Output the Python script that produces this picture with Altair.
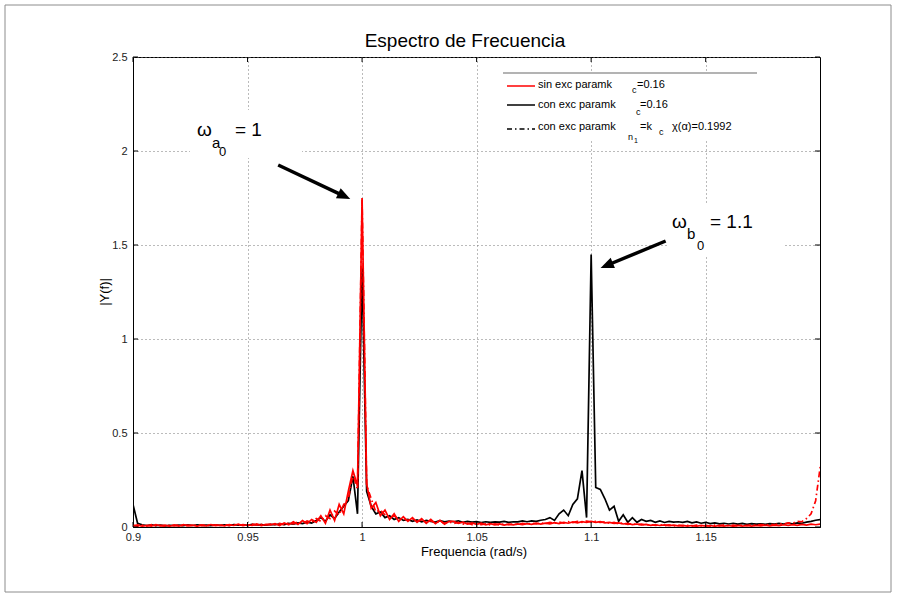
import altair as alt
import pandas as pd

# Frequency grid of the spectrum (rad/s)
FREQ_START = 0.9
FREQ_STEP = 0.002

# |Y(f)| without parametric excitation, k_c = 0.16 (red, solid)
mag_sin = [
    0.006, 0.011, 0.004, 0.009, 0.005, 0.012, 0.006, 0.010, 0.004, 0.011,   # 0.90
    0.005, 0.012, 0.007, 0.010, 0.004, 0.011, 0.006, 0.013, 0.007, 0.010,   # 0.92
    0.006, 0.013, 0.008, 0.015, 0.007, 0.012, 0.009, 0.016, 0.008, 0.014,   # 0.94
    0.011, 0.018, 0.008, 0.022, 0.012, 0.028, 0.014, 0.034, 0.018, 0.040,   # 0.96
    0.025, 0.060, 0.020, 0.090, 0.035, 0.120, 0.070, 0.190, 0.300, 0.220,   # 0.98
    1.750, 0.230, 0.100, 0.130, 0.060, 0.090, 0.040, 0.070, 0.030, 0.055,   # 1.00
    0.030, 0.050, 0.025, 0.045, 0.020, 0.040, 0.018, 0.036, 0.015, 0.030,   # 1.02
    0.030, 0.020, 0.026, 0.016, 0.022, 0.014, 0.020, 0.012, 0.018, 0.011,   # 1.04
    0.016, 0.010, 0.015, 0.011, 0.017, 0.012, 0.018, 0.014, 0.020, 0.015,   # 1.06
    0.021, 0.017, 0.023, 0.018, 0.025, 0.020, 0.027, 0.022, 0.028, 0.024,   # 1.08
    0.030, 0.025, 0.028, 0.022, 0.025, 0.019, 0.022, 0.016, 0.019, 0.013,   # 1.10
    0.016, 0.011, 0.014, 0.009, 0.012, 0.008, 0.011, 0.007, 0.010, 0.006,   # 1.12
    0.009, 0.005, 0.008, 0.004, 0.009, 0.005, 0.008, 0.004, 0.009, 0.005,   # 1.14
    0.008, 0.004, 0.009, 0.005, 0.008, 0.005, 0.009, 0.006, 0.010, 0.006,   # 1.16
    0.010, 0.007, 0.012, 0.008, 0.013, 0.009, 0.014, 0.010, 0.015, 0.012,   # 1.18
    0.016,                                                                  # 1.20
]

# |Y(f)| with parametric excitation, k_c = 0.16 (black, solid)
mag_con = [
    0.120, 0.020, 0.012, 0.008, 0.011, 0.007, 0.010, 0.006, 0.009, 0.008,
    0.010, 0.007, 0.011, 0.008, 0.012, 0.009, 0.010, 0.007, 0.012, 0.009,
    0.011, 0.008, 0.013, 0.010, 0.012, 0.009, 0.014, 0.011, 0.013, 0.010,
    0.014, 0.012, 0.017, 0.013, 0.019, 0.015, 0.022, 0.018, 0.026, 0.021,
    0.035, 0.050, 0.030, 0.065, 0.045, 0.080, 0.110, 0.140, 0.270, 0.070,
    1.380, 0.190, 0.110, 0.070, 0.080, 0.050, 0.060, 0.040, 0.050, 0.035,
    0.040, 0.030, 0.038, 0.028, 0.035, 0.030, 0.026, 0.034, 0.027, 0.031,
    0.028, 0.033, 0.025, 0.030, 0.026, 0.029, 0.024, 0.028, 0.025, 0.027,
    0.026, 0.030, 0.025, 0.028, 0.027, 0.032, 0.028, 0.033, 0.030, 0.036,
    0.040, 0.050, 0.035, 0.070, 0.090, 0.060, 0.120, 0.150, 0.300, 0.050,
    1.450, 0.210, 0.200, 0.150, 0.090, 0.110, 0.030, 0.065, 0.025, 0.050,
    0.025, 0.040, 0.030, 0.035, 0.025, 0.032, 0.024, 0.030, 0.026, 0.028,
    0.025, 0.030, 0.022, 0.027, 0.020, 0.025, 0.018, 0.022, 0.017, 0.020,
    0.016, 0.020, 0.015, 0.019, 0.014, 0.018, 0.015, 0.017, 0.014, 0.018,
    0.015, 0.019, 0.016, 0.020, 0.017, 0.022, 0.020, 0.026, 0.030, 0.036,
    0.040,
]

# |Y(f)| with parametric excitation, k_n1 = k_c chi(alpha) = 0.1992 (dash-dot)
mag_n1 = [
    0.009, 0.004, 0.010, 0.005, 0.012, 0.006, 0.009, 0.004, 0.010, 0.006,
    0.011, 0.005, 0.009, 0.006, 0.012, 0.007, 0.010, 0.005, 0.011, 0.008,
    0.012, 0.007, 0.014, 0.009, 0.013, 0.008, 0.015, 0.010, 0.014, 0.011,
    0.016, 0.012, 0.019, 0.013, 0.022, 0.017, 0.027, 0.019, 0.032, 0.024,
    0.045, 0.030, 0.060, 0.045, 0.085, 0.065, 0.120, 0.150, 0.280, 0.200,
    1.740, 0.220, 0.150, 0.080, 0.090, 0.065, 0.050, 0.060, 0.040, 0.045,
    0.035, 0.042, 0.030, 0.038, 0.026, 0.033, 0.022, 0.030, 0.020, 0.027,
    0.018, 0.025, 0.015, 0.021, 0.013, 0.019, 0.012, 0.017, 0.011, 0.016,
    0.011, 0.017, 0.012, 0.016, 0.013, 0.019, 0.015, 0.020, 0.016, 0.022,
    0.018, 0.024, 0.019, 0.026, 0.021, 0.028, 0.023, 0.030, 0.025, 0.031,
    0.027, 0.030, 0.024, 0.027, 0.020, 0.024, 0.017, 0.021, 0.014, 0.018,
    0.012, 0.015, 0.010, 0.013, 0.008, 0.012, 0.007, 0.011, 0.006, 0.010,
    0.006, 0.009, 0.005, 0.010, 0.006, 0.009, 0.005, 0.010, 0.006, 0.011,
    0.007, 0.010, 0.006, 0.011, 0.007, 0.012, 0.008, 0.013, 0.010, 0.015,
    0.012, 0.018, 0.015, 0.022, 0.020, 0.030, 0.028, 0.045, 0.070, 0.140,
    0.320,
]

x_ticks = [0.9, 0.95, 1.0, 1.05, 1.1, 1.15]
y_ticks = [0, 0.5, 1.0, 1.5, 2.0, 2.5]

freq = [round(FREQ_START + FREQ_STEP * i, 3) for i in range(len(mag_con))]

W, H = 687, 470
FONT = "Liberation Sans"

x_enc = alt.X(
    "freq:Q",
    scale=alt.Scale(domain=[0.9, 1.1999], nice=False, zero=False),
    axis=alt.Axis(values=x_ticks, format="~g", title=None, ticks=False,
                  labelPadding=4, labelFlush=False, labelOverlap=False),
)
y_enc = alt.Y(
    "mag:Q",
    scale=alt.Scale(domain=[0, 2.5], nice=False),
    axis=alt.Axis(values=y_ticks, format="~g", title=None, ticks=False,
                  labelPadding=6, labelFlush=False, labelOverlap=False),
)


def series(values, color, dash=None):
    df = pd.DataFrame({"freq": freq, "mag": values})
    kw = dict(color=color, strokeWidth=1.7, clip=True)
    if dash:
        kw["strokeDash"] = dash
    return alt.Chart(df).mark_line(**kw).encode(x=x_enc, y=y_enc)


one = pd.DataFrame({"k": [0]})


def ptext(text, x, y, size, align="left", angle=None, baseline="alphabetic"):
    kw = dict(text=text, fontSize=size, font=FONT, align=align,
              baseline=baseline, color="black")
    if angle is not None:
        kw["angle"] = angle
    return alt.Chart(one).mark_text(**kw).encode(x=alt.value(x), y=alt.value(y))


def prect(x, x2, y, y2, fill="white", stroke=None):
    kw = dict(fill=fill)
    if stroke:
        kw.update(stroke=stroke, strokeWidth=1)
    return alt.Chart(one).mark_rect(**kw).encode(
        x=alt.value(x), x2=alt.value(x2), y=alt.value(y), y2=alt.value(y2))


def pline(x, x2, y, color, width=1.5, dash=None):
    kw = dict(color=color, strokeWidth=width)
    if dash:
        kw["strokeDash"] = dash
    return alt.Chart(one).mark_rule(**kw).encode(
        x=alt.value(x), x2=alt.value(x2), y=alt.value(y))


# inward tick marks on all four sides
xt = pd.DataFrame({"freq": x_ticks})
yt = pd.DataFrame({"mag": y_ticks})
ticks = [
    alt.Chart(xt).mark_rule(color="black").encode(x=x_enc, y=alt.value(H), y2=alt.value(H - 5)),
    alt.Chart(xt).mark_rule(color="black").encode(x=x_enc, y=alt.value(0), y2=alt.value(5)),
    alt.Chart(yt).mark_rule(color="black").encode(y=y_enc, x=alt.value(0), x2=alt.value(5)),
    alt.Chart(yt).mark_rule(color="black").encode(y=y_enc, x=alt.value(W - 5), x2=alt.value(W)),
]

# arrows pointing to the two resonance peaks
arrows = pd.DataFrame({
    "f0": [0.96337, 1.13252], "m0": [1.9255, 1.5213],
    "f1": [0.99126, 1.10774], "m1": [1.7649, 1.3963],
    "ft": [0.99484, 1.10411], "mt": [1.7447, 1.3777],
    "ang": [25.3, 157.4],
})
arrow_lines = alt.Chart(arrows).mark_rule(color="black", strokeWidth=3.5).encode(
    x=alt.X("f0:Q", scale=alt.Scale(domain=[0.9, 1.1999], nice=False, zero=False)),
    y=alt.Y("m0:Q", scale=alt.Scale(domain=[0, 2.5], nice=False)),
    x2="f1:Q", y2="m1:Q")
arrow_heads = alt.Chart(arrows).mark_point(
    shape="M0,0 L-1,-0.42 L-1,0.42 Z", filled=True, color="black", opacity=1, size=700
).encode(
    x=alt.X("ft:Q", scale=alt.Scale(domain=[0.9, 1.1999], nice=False, zero=False)),
    y=alt.Y("mt:Q", scale=alt.Scale(domain=[0, 2.5], nice=False)),
    angle=alt.Angle("ang:Q", scale=None),
)

# white boxes behind the annotation labels and the legend
masks = [
    prect(57, 169, 53, 101),
    prect(534, 650, 148, 198),
    prect(370, 624, 16, 84),
    pline(370, 624, 16, "#9a9a9a", width=1.5),
]

legend = [
    pline(374, 402, 29, "red", 1.5),
    ptext("sin exc paramk", 405, 31, 11),
    ptext("c", 499, 36, 9),
    ptext("=0.16", 504, 31, 11),
    pline(374, 402, 48, "black", 1.5),
    ptext("con  exc paramk", 405, 51, 11),
    ptext("c", 503, 58, 9),
    ptext("=0.16", 507, 51, 11),
    pline(374, 402, 72, "black", 1.5, dash=[5, 3, 1.5, 3]),
    ptext("con exc paramk", 405, 73, 11),
    ptext("n", 495, 83, 9),
    ptext("1", 501, 86, 7),
    ptext("=k", 507, 73, 11),
    ptext("c", 526, 78, 9),
    ptext("\u03c7(\u03b1)=0.1992", 539, 73, 11),
]

labels = [
    ptext("\u03c9", 64, 79, 19),
    ptext("a", 79, 91, 15),
    ptext("0", 86, 99, 13),
    ptext("= 1", 102, 79, 19),
    ptext("\u03c9", 539, 171, 19),
    ptext("b", 554, 182, 15),
    ptext("0", 564, 193, 13),
    ptext("= 1.1", 577, 171, 19),
]

frame_and_titles = [
    prect(-128, 758, -52, 535, fill="transparent", stroke="#8c8c8c"),
    ptext("Espectro de Frecuencia", 332, -10, 19, align="center"),
    ptext("Frequencia (rad/s)", 341, 499, 13, align="center"),
    ptext("|Y(f)|", -28, 235, 13, align="center", angle=270, baseline="middle"),
]

chart = alt.layer(
    *masks,
    series(mag_con, "black"),
    series(mag_sin, "red"),
    series(mag_n1, "red", dash=[6, 3, 1.5, 3]),
    *ticks,
    arrow_lines,
    arrow_heads,
    *legend,
    *labels,
    *frame_and_titles,
).properties(
    width=W, height=H,
    autosize="none",
    padding={"left": 133, "top": 57, "right": 78, "bottom": 71},
    background="white",
).configure_axis(
    labelFont=FONT, labelFontSize=11, labelColor="#222",
    domainColor="black", domainWidth=1,
    gridColor="#777", gridDash=[1, 3], gridWidth=1,
).configure_view(stroke="black", strokeWidth=1)

chart.save("out.html", embed_options={"renderer": "svg", "actions": False})
